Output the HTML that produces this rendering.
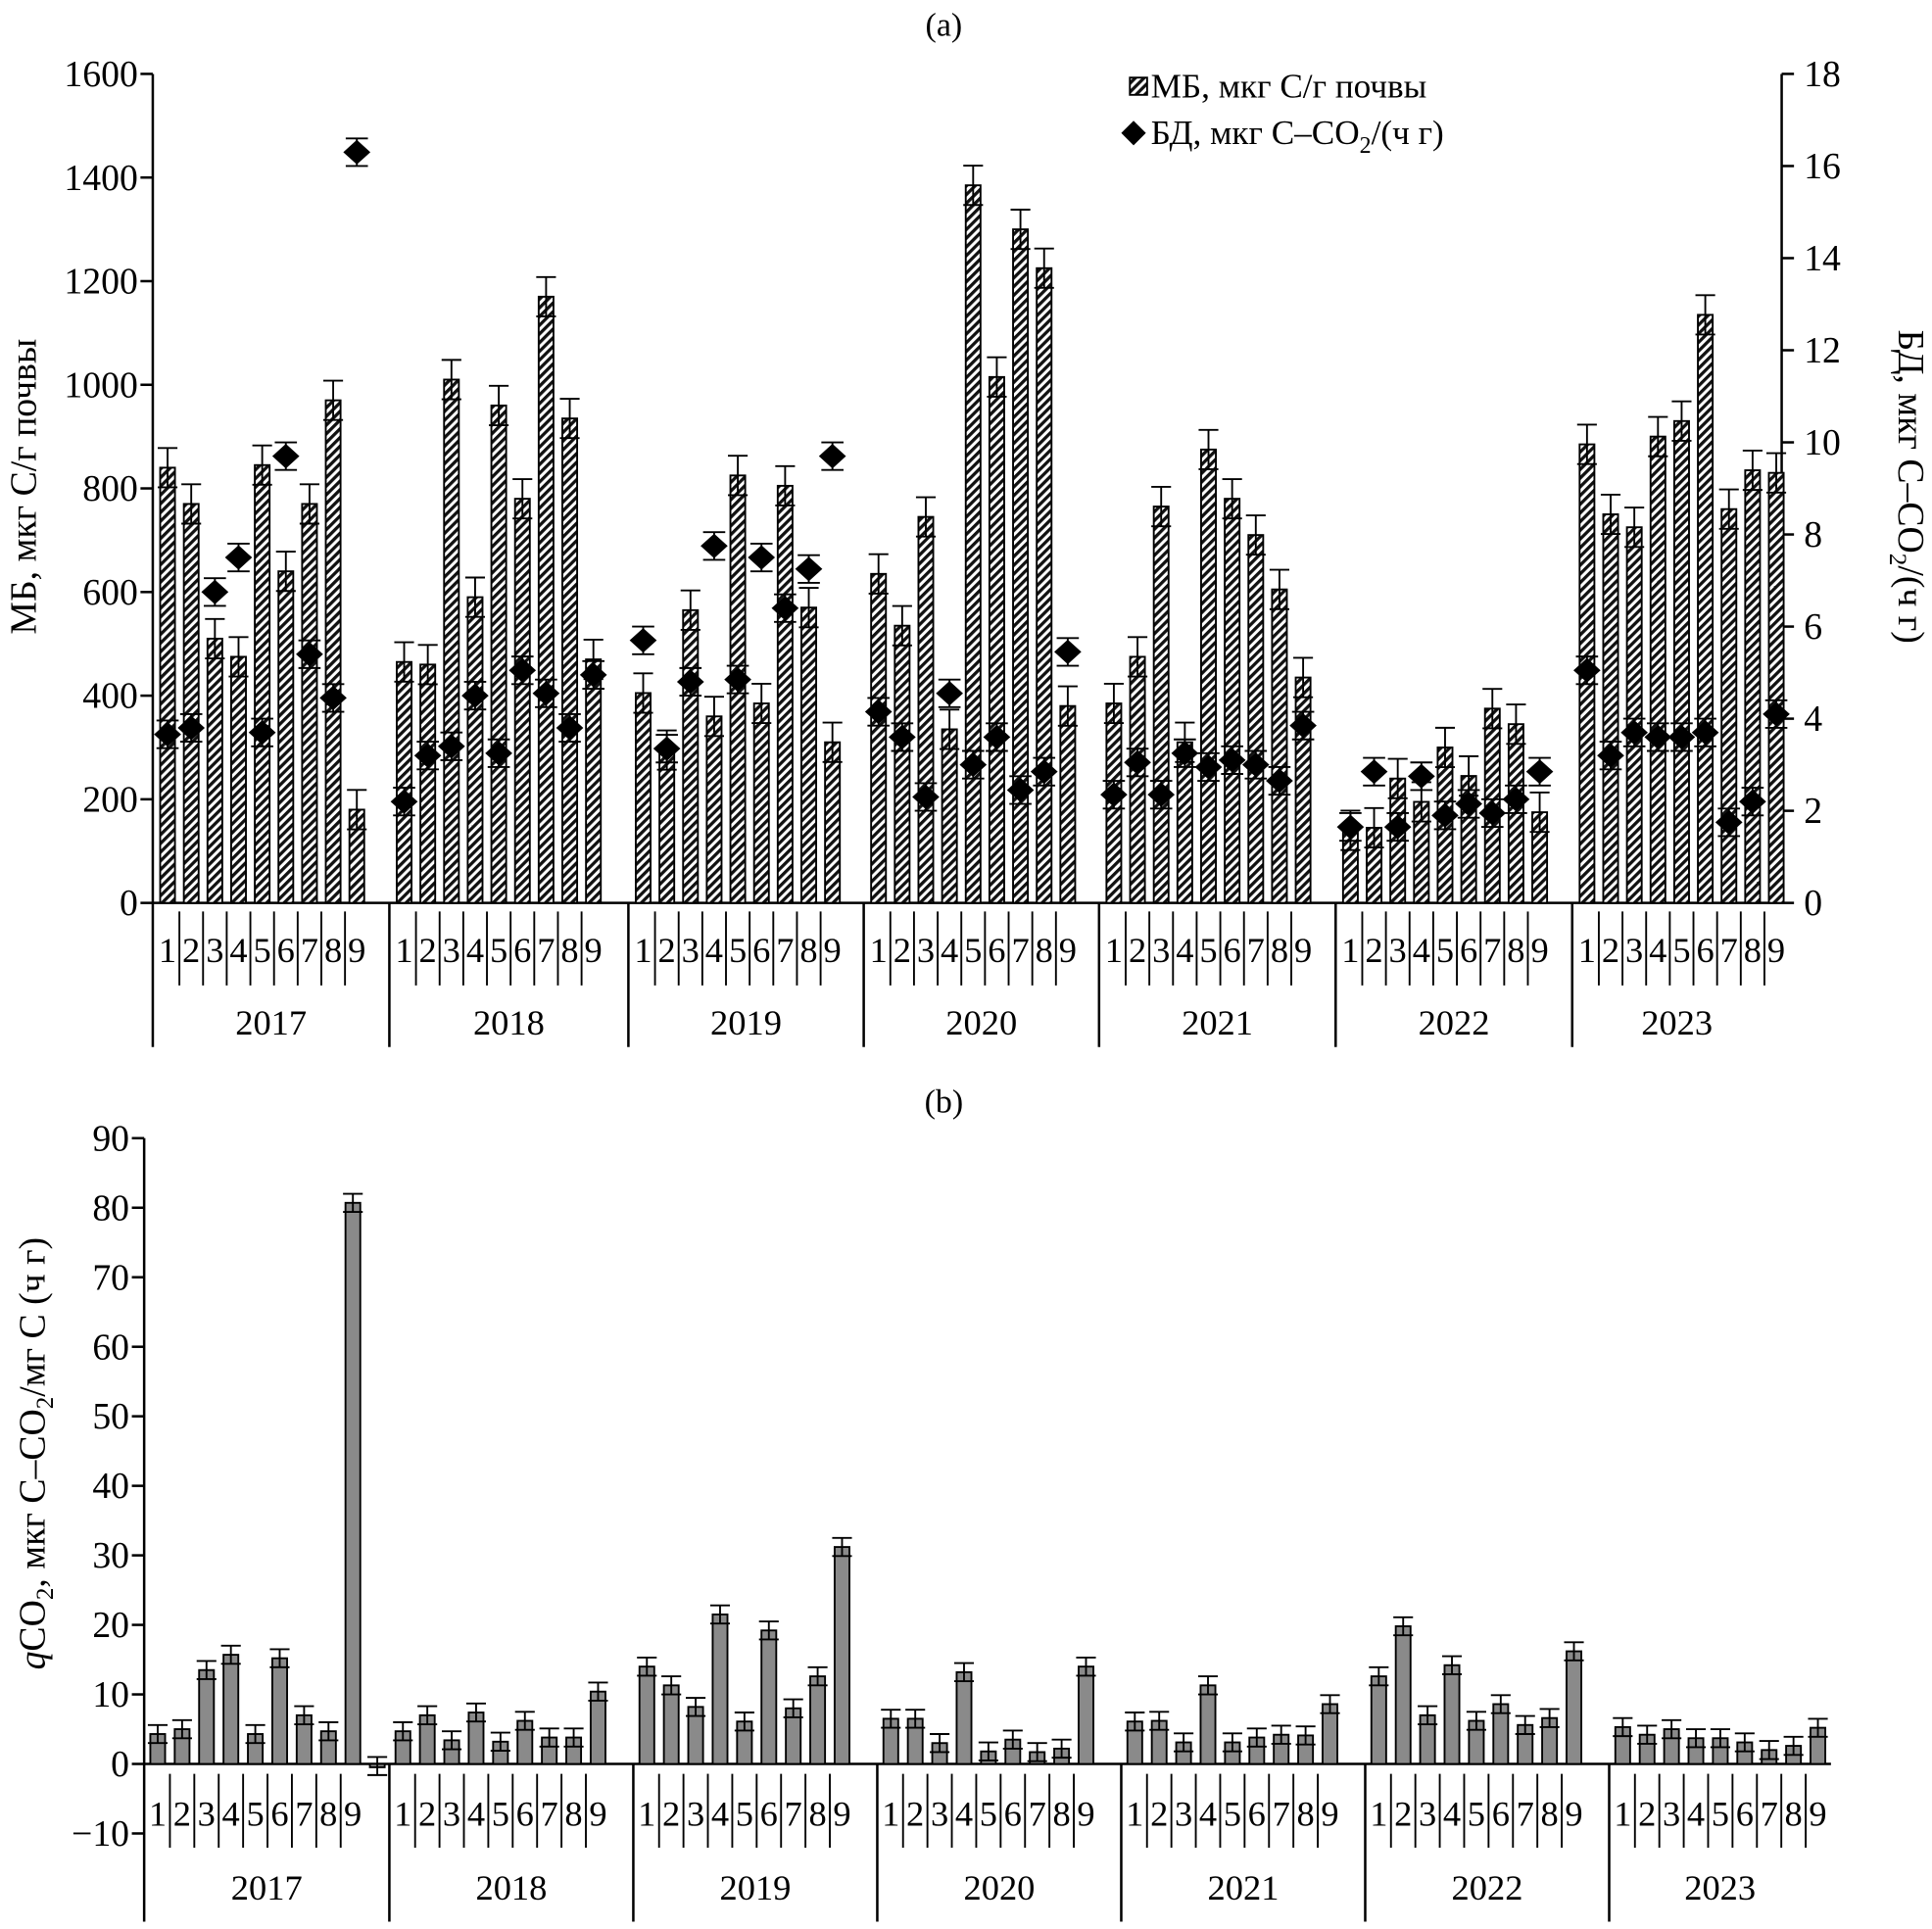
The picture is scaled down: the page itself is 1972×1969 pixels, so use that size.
<!DOCTYPE html>
<html><head><meta charset="utf-8"><style>
html,body{margin:0;padding:0;background:#fff}
svg{display:block}
text{font-family:"Liberation Serif",serif;fill:#000}
</style></head><body>
<svg id="chart" width="1972" height="1969" viewBox="0 0 1568 1566" preserveAspectRatio="none" xmlns="http://www.w3.org/2000/svg">
<defs>
<pattern id="hatch" patternUnits="userSpaceOnUse" width="5" height="5" patternTransform="rotate(-45)">
<rect width="5" height="5" fill="#fff"/><rect width="5" height="2.6" fill="#111"/>
</pattern>
</defs>
<g id="g"></g>
</svg>
<script>
const years = ["2017","2018","2019","2020","2021","2022","2023"];
const months = ["1","2","3","4","5","6","7","8","9"];
const mbValues = [
 [840,770,510,475,845,640,770,970,180],
 [465,460,1010,590,960,780,1170,935,470],
 [405,295,565,360,825,385,805,570,310],
 [635,535,745,335,1385,1015,1300,1225,380],
 [385,475,765,310,875,780,710,605,435],
 [140,145,240,195,300,245,375,345,175],
 [885,750,725,900,930,1135,760,835,830]
];
const mbErr = 38;
const bdValues = [
 [3.66,3.8,6.75,7.5,3.7,9.7,5.4,4.45,16.3],
 [2.2,3.2,3.4,4.5,3.25,5.05,4.55,3.8,4.95],
 [5.7,3.35,4.8,7.75,4.85,7.5,6.4,7.25,9.7],
 [4.15,3.6,2.3,4.55,3.0,3.6,2.45,2.85,5.45],
 [2.35,3.05,2.35,3.25,2.95,3.1,3.0,2.65,3.85],
 [1.65,2.85,1.65,2.75,1.9,2.15,1.95,2.25,2.85],
 [5.05,3.2,3.7,3.6,3.6,3.7,1.75,2.2,4.1]
];
const bdErr = 0.3;
const qValues = [
 [4.3,5,13.5,15.7,4.3,15.2,7,4.7,80.7],
 [4.7,7,3.4,7.4,3.2,6.2,3.8,3.8,10.4],
 [14,11.3,8.2,21.5,6.1,19.2,8,12.6,31.2],
 [6.5,6.5,3,13.2,1.8,3.5,1.7,2.2,14],
 [6.1,6.2,3.1,11.3,3.1,3.8,4.2,4.1,8.6],
 [12.6,19.8,7,14.2,6.2,8.6,5.6,6.6,16.2],
 [5.3,4.2,5,3.7,3.7,3.1,2,2.6,5.2]
];
const qErr = 1.3;
const qExtra = -0.3;
const mbTicks = [0,200,400,600,800,1000,1200,1400,1600];
const bdTicks = [0,2,4,6,8,10,12,14,16,18];
const qTicks = [-10,0,10,20,30,40,50,60,70,80,90];

const NS="http://www.w3.org/2000/svg";
const G=document.getElementById('g');
function el(t,a,p){const e=document.createElementNS(NS,t);for(const k in a)e.setAttribute(k,a[k]);(p||G).appendChild(e);return e;}
function txt(x,y,s,size,anchor,p){const e=el('text',{x:x,y:y,'font-size':size,'text-anchor':anchor||'middle'},p);e.textContent=s;return e;}
function line(x1,y1,x2,y2,w,p){return el('line',{x1,y1,x2,y2,stroke:'#000','stroke-width':w||2},p);}

// ===== Chart (a) =====
const aL=124,aR=1446,aTop=60,aBot=733,aStep=19.2,aOff=12;
const aEdges=[124,316,510,701,892,1084,1276,1446];
const yMB=v=>aBot-(v/1600)*(aBot-aTop);
const yBD=v=>aBot-(v/18)*(aBot-aTop);
const xA=(g,i)=>aEdges[g]+aOff+i*aStep;
let t=txt(766,29,"(a)",27);

let ax=line(aL,aTop,aL,850,2);
ax=line(aR,aTop,aR,aBot,2);
ax=line(aL,aBot,aR,aBot,2);
mbTicks.forEach(v=>{const y=yMB(v);line(aL-10,y,aL,y,2);
 const l=txt(aL-12,y+10,String(v),30,'end');});
bdTicks.forEach(v=>{const y=yBD(v);line(aR,y,aR+10,y,2);
 const l=txt(aR+18,y+10,String(v),30,'start');});
t=txt(0,0,"МБ, мкг С/г почвы",30);t.setAttribute('transform','translate(29,395) rotate(-90)');

t=el('text',{'font-size':30,'text-anchor':'middle',transform:'translate(1541,395) rotate(90)'});
t.innerHTML='БД, мкг С–СО<tspan font-size="20" dy="7">2</tspan><tspan dy="-7">/(ч г)</tspan>';

for(let g=0;g<7;g++){
 const x0=aEdges[g],x1=aEdges[g+1];
 if(g>0){const d=line(x0,aBot,x0,850,2);}
 const yl=txt((x0+x1)/2,840,years[g],29);
 for(let i=0;i<9;i++){
  const x=xA(g,i),v=mbValues[g][i];
  const b=el('rect',{x:x-6,y:yMB(v),width:12,height:aBot-yMB(v),fill:'url(#hatch)',stroke:'#000','stroke-width':1.5});
  
  const e1=yMB(v+mbErr),e2=yMB(v-mbErr);
  line(x,e1,x,e2,1.5);line(x-8,e1,x+8,e1,1.5);line(x-8,e2,x+8,e2,1.5);
  const lb=txt(x,781,months[i],29);
  if(i>0){line(x-aStep/2,740,x-aStep/2,800,1.5);}
 }
 for(let i=0;i<9;i++){
  const x=xA(g,i),v=bdValues[g][i],y=yBD(v);
  const u=yBD(v+bdErr),dn=yBD(v-bdErr);
  line(x,u,x,dn,1.5);line(x-9,u,x+9,u,1.5);line(x-9,dn,x+9,dn,1.5);
  const d=el('polygon',{points:`${x-11},${y} ${x},${y-10} ${x+11},${y} ${x},${y+10}`,fill:'#000'});
  
 }
}
// legend
const lg=el('g',{});
let lr=el('rect',{x:917,y:63,width:14,height:14,fill:'url(#hatch)',stroke:'#000','stroke-width':1.5},lg);

t=txt(934,79,"МБ, мкг С/г почвы",28,'start',lg);
lr=el('polygon',{points:'910,108 920,98 930,108 920,118',fill:'#000'},lg);

t=el('text',{x:934,y:117,'font-size':28,'text-anchor':'start'},lg);
t.innerHTML='БД, мкг С–СО<tspan font-size="19" dy="7">2</tspan><tspan dy="-7">/(ч г)</tspan>';


// ===== Chart (b) =====
const bL=117,bR=1486,bTop=924,bZero=1432,bStep=19.8,bOff=11;
const bEdges=[117,316,514,712,910,1108,1306,1486];
const unit=(bZero-bTop)/90;
const yQ=v=>bZero-v*unit;
const xB=(g,i)=>bEdges[g]+bOff+i*bStep;
t=txt(766,903,"(b)",27);
ax=line(bL,bTop,bL,1560,2);
ax=line(bL,bZero,bR,bZero,2);
qTicks.forEach(v=>{const y=yQ(v);line(bL-10,y,bL,y,2);
 const l=txt(bL-12,y+10,v<0?"−"+Math.abs(v):String(v),30,'end');});
t=el('text',{'font-size':30,'text-anchor':'middle',transform:'translate(36,1180) rotate(-90)'});
t.innerHTML='<tspan font-style="italic">q</tspan>CO<tspan font-size="20" dy="7">2</tspan><tspan dy="-7">, мкг С–СО</tspan><tspan font-size="20" dy="7">2</tspan><tspan dy="-7">/мг С (ч г)</tspan>';

for(let g=0;g<7;g++){
 const x0=bEdges[g],x1=bEdges[g+1];
 if(g>0){const d=line(x0,bZero,x0,1560,2);}
 const yl=txt((x0+x1)/2,1542,years[g],29);
 for(let i=0;i<9;i++){
  const x=xB(g,i),v=qValues[g][i];
  const b=el('rect',{x:x-6,y:Math.min(yQ(v),bZero),width:12,height:Math.abs(bZero-yQ(v)),fill:'#8a8a8a',stroke:'#000','stroke-width':1.5});
  
  const e1=yQ(v+qErr),e2=yQ(v-qErr);
  line(x,e1,x,e2,1.5);line(x-8,e1,x+8,e1,1.5);line(x-8,e2,x+8,e2,1.5);
  const lb=txt(x,1482,months[i],29);
  if(i>0){line(x-bStep/2,1440,x-bStep/2,1500,1.5);}
 }
}
{const x=xB(0,9),v=qExtra;
 const b=el('rect',{x:x-6,y:yQ(0),width:12,height:Math.abs(yQ(v)-yQ(0))+1,fill:'#8a8a8a',stroke:'#000','stroke-width':1.5});
 
 const e1=yQ(v+qErr),e2=yQ(v-qErr);
 line(x,e1,x,e2,1.5);line(x-8,e1,x+8,e1,1.5);line(x-8,e2,x+8,e2,1.5);}
</script>
</body></html>
